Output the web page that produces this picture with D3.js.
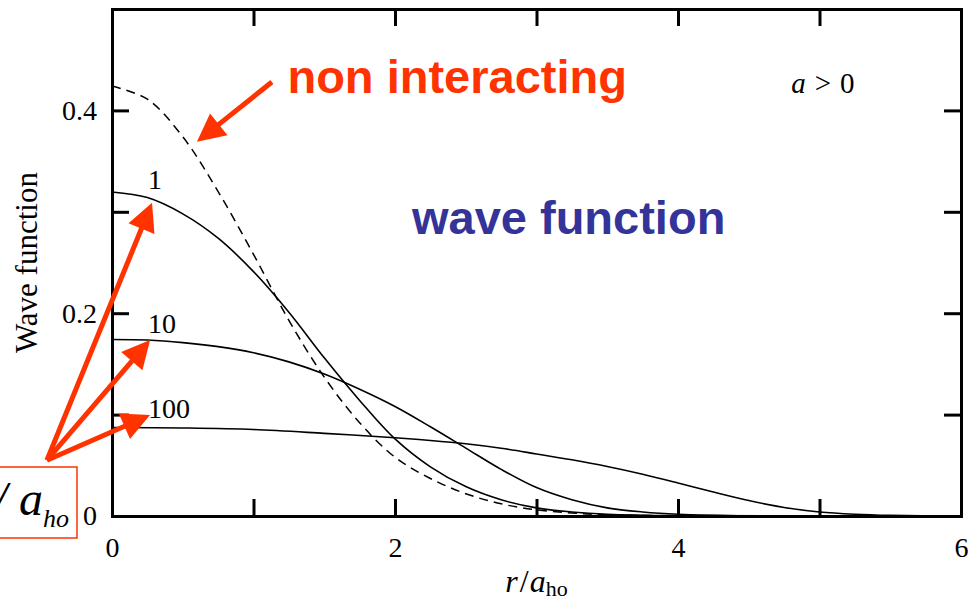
<!DOCTYPE html>
<html>
<head>
<meta charset="utf-8">
<script src="https://cdn.jsdelivr.net/npm/d3@7"></script>
<style>
  body { margin: 0; background: #fff; }
  svg { display: block; }
</style>
</head>
<body>
<div id="chart"></div>
<script>
// values (r / a_ho  ->  wave function)
var rNonInt = [0, 0.25, 0.5, 0.75, 1.0, 1.25, 1.5, 1.75, 2.0, 2.25, 2.5, 2.75, 3.0, 3.25, 3.5, 4.0, 6.0];
var psiNonInt = [0.424, 0.411, 0.374, 0.320, 0.258, 0.193, 0.137, 0.092, 0.058, 0.037, 0.022, 0.012, 0.006, 0.003, 0.0012, 0.0002, 0];

var rOne = [0, 0.25, 0.5, 0.75, 1.0, 1.25, 1.5, 1.75, 2.0, 2.25, 2.5, 2.75, 3.0, 3.25, 3.5, 4.0, 6.0];
var psiOne = [0.3195, 0.314, 0.298, 0.274, 0.241, 0.201, 0.156, 0.114, 0.076, 0.0485, 0.029, 0.016, 0.008, 0.004, 0.0018, 0.0004, 0];

var rTen = [0, 0.25, 0.5, 0.75, 1.0, 1.25, 1.5, 1.75, 2.0, 2.25, 2.5, 2.75, 3.0, 3.25, 3.5, 3.75, 4.0, 4.5, 6.0];
var psiTen = [0.174, 0.1735, 0.171, 0.167, 0.161, 0.152, 0.140, 0.125, 0.108, 0.088, 0.067, 0.046, 0.028, 0.016, 0.008, 0.004, 0.0018, 0.0003, 0];

var rHundred = [0, 0.5, 1.0, 1.5, 2.0, 2.25, 2.5, 2.75, 3.0, 3.25, 3.5, 3.75, 4.0, 4.25, 4.5, 4.75, 5.0, 5.25, 5.5, 6.0];
var psiHundred = [0.0873, 0.0868, 0.0853, 0.0815, 0.0772, 0.0745, 0.0712, 0.0668, 0.0612, 0.0554, 0.0488, 0.0412, 0.0326, 0.0236, 0.0152, 0.0084, 0.004, 0.0018, 0.0007, 0];

var curveLabels = ["1", "10", "100"];
var curveLabelPos = [[0.255, 0.322], [0.255, 0.1805], [0.255, 0.0965]];

var xTicks = [0, 1, 2, 3, 4, 5, 6];
var xTickLabels = ["0", "", "2", "", "4", "", "6"];
var yTicks = [0, 0.1, 0.2, 0.3, 0.4, 0.5];
var yTickLabels = ["0", "", "0.2", "", "0.4", ""];

// arrows in data coordinates: [from, to]
var arrows = [
  [[1.13, 0.428], [0.60, 0.369]],
  [[-0.46, 0.055], [0.283, 0.309]],
  [[-0.46, 0.055], [0.269, 0.1736]],
  [[-0.46, 0.055], [0.269, 0.0996]]
];

var W = 975, H = 603;
var red = "#ff3300", blue = "#333399";
var serif = "'Liberation Serif', 'Times New Roman', serif";
var sans = "'Liberation Sans', Arial, sans-serif";

var svg = d3.select("#chart").append("svg")
    .attr("width", W)
    .attr("height", H);

var x = d3.scaleLinear().domain([0, 6]).range([112, 961]);
var y = d3.scaleLinear().domain([0, 0.5]).range([516, 9]);

// axes (frame with inward ticks)
var axB = svg.append("g").attr("transform", "translate(0,516)")
  .call(d3.axisBottom(x).tickValues(xTicks).tickSizeInner(-17).tickSizeOuter(0).tickPadding(21)
    .tickFormat(function(d, i) { return xTickLabels[i]; }));
var axT = svg.append("g").attr("transform", "translate(0,9)")
  .call(d3.axisTop(x).tickValues(xTicks).tickSizeInner(-17).tickSizeOuter(0).tickFormat(""));
var axL = svg.append("g").attr("transform", "translate(112,0)")
  .call(d3.axisLeft(y).tickValues(yTicks).tickSizeInner(-17).tickSizeOuter(0).tickPadding(15)
    .tickFormat(function(d, i) { return yTickLabels[i]; }));
var axR = svg.append("g").attr("transform", "translate(961,0)")
  .call(d3.axisRight(y).tickValues(yTicks).tickSizeInner(-17).tickSizeOuter(0).tickFormat(""));

[axB, axT, axL, axR].forEach(function(a) {
  a.select(".domain").attr("stroke", "#000").attr("stroke-width", 3).attr("stroke-linecap", "square");
  a.selectAll(".tick line").attr("stroke", "#000").attr("stroke-width", 3);
  a.selectAll(".tick text").attr("font-family", serif).attr("font-size", 28).attr("fill", "#000");
});

// curves
var line = d3.line()
  .x(function(d) { return x(d[0]); })
  .y(function(d) { return y(d[1]); })
  .curve(d3.curveCatmullRom.alpha(0.5));

function pairs(rs, ps) { return rs.map(function(r, i) { return [r, ps[i]]; }); }

svg.append("path").datum(pairs(rNonInt, psiNonInt))
  .attr("d", line).attr("fill", "none").attr("stroke", "#000")
  .attr("stroke-width", 1.5).attr("stroke-dasharray", "9,6");
[pairs(rOne, psiOne), pairs(rTen, psiTen), pairs(rHundred, psiHundred)].forEach(function(p) {
  svg.append("path").datum(p)
    .attr("d", line).attr("fill", "none").attr("stroke", "#000").attr("stroke-width", 1.6);
});

svg.selectAll(".clabel").data(curveLabels).enter().append("text")
  .attr("class", "clabel")
  .attr("x", function(d, i) { return x(curveLabelPos[i][0]); })
  .attr("y", function(d, i) { return y(curveLabelPos[i][1]); })
  .attr("font-family", serif).attr("font-size", 28)
  .text(function(d) { return d; });

// axis titles
svg.append("text")
  .attr("transform", "translate(37," + y(0.25) + ") rotate(-90)")
  .attr("text-anchor", "middle")
  .attr("font-family", serif).attr("font-size", 31)
  .text("Wave function");

var xt = svg.append("text")
  .attr("x", x(3)).attr("y", 592)
  .attr("text-anchor", "middle")
  .attr("font-family", serif).attr("font-size", 32);
xt.append("tspan").attr("font-style", "italic").text("r");
xt.append("tspan").attr("dx", 2).text("/");
xt.append("tspan").attr("dx", 1).attr("font-style", "italic").text("a");
xt.append("tspan").attr("font-size", 22).attr("dy", 4).text("ho");

var at = svg.append("text")
  .attr("x", x(4.8)).attr("y", y(0.417))
  .attr("font-family", serif).attr("font-size", 29);
at.append("tspan").attr("font-style", "italic").text("a");
at.append("tspan").attr("dx", 9).text(">");
at.append("tspan").attr("dx", 9).text("0");

// annotations
svg.append("text")
  .attr("x", x(1.24)).attr("y", y(0.417))
  .attr("font-family", sans).attr("font-weight", "bold").attr("font-size", 47)
  .attr("fill", red).text("non interacting");

svg.append("text")
  .attr("x", x(2.12)).attr("y", y(0.278))
  .attr("font-family", sans).attr("font-weight", "bold").attr("font-size", 47)
  .attr("fill", blue).text("wave function");

// box with Na / a_ho (cut by the left edge, as in the original)
svg.append("rect")
  .attr("x", -5).attr("y", 467).attr("width", 82).attr("height", 71)
  .attr("fill", "#fff").attr("stroke", red).attr("stroke-width", 1.5);
var bt = svg.append("text")
  .attr("x", 69).attr("y", 515)
  .attr("text-anchor", "end")
  .attr("font-family", serif).attr("font-style", "italic").attr("font-size", 48);
bt.append("tspan").text("Na / a");
bt.append("tspan").attr("font-size", 26).attr("dy", 12).text("ho");

// arrows
arrows.forEach(function(a) {
  var x0 = x(a[0][0]), y0 = y(a[0][1]), x1 = x(a[1][0]), y1 = y(a[1][1]);
  var dx = x1 - x0, dy = y1 - y0, len = Math.sqrt(dx * dx + dy * dy);
  var ux = dx / len, uy = dy / len, L = 28, hw = 14;
  var bx = x1 - L * ux, by = y1 - L * uy;
  svg.append("line")
    .attr("x1", x0).attr("y1", y0).attr("x2", bx + 2 * ux).attr("y2", by + 2 * uy)
    .attr("stroke", red).attr("stroke-width", 5);
  svg.append("path")
    .attr("d", "M" + x1 + "," + y1 +
      "L" + (bx - hw * uy) + "," + (by + hw * ux) +
      "L" + (bx + hw * uy) + "," + (by - hw * ux) + "Z")
    .attr("fill", red);
});
</script>
</body>
</html>
